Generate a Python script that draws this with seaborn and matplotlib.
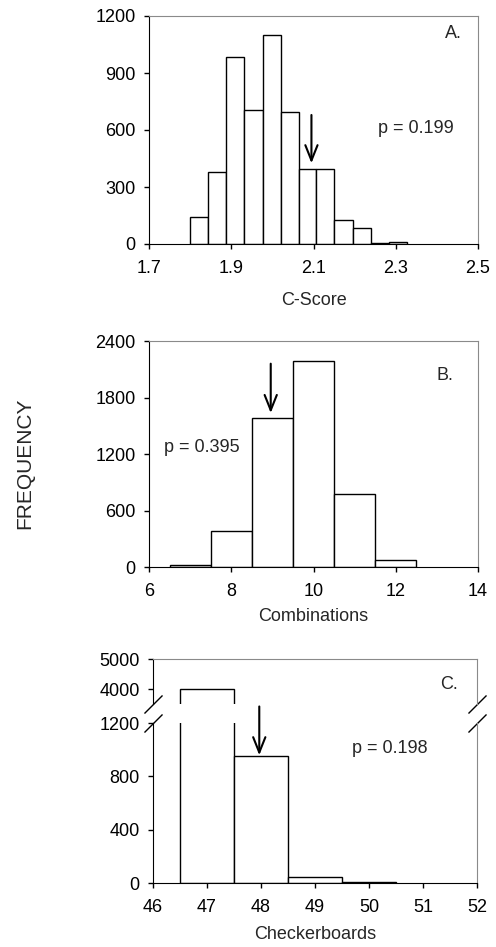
import numpy as np
import pandas as pd
import matplotlib
matplotlib.use("Agg")
import matplotlib.pyplot as plt
import seaborn as sns

# --- data ---
cscore_centers = [1.822, 1.866, 1.910, 1.954, 1.998, 2.042, 2.086, 2.129, 2.173, 2.217, 2.261, 2.305]
cscore_counts = [140, 380, 985, 705, 1100, 695, 395, 395, 125, 82, 7, 12]
cscore_width = 0.0439

combo_centers = [7, 8, 9, 10, 11, 12]
combo_counts = [25, 385, 1580, 2190, 780, 78]

checker_centers = [47, 48, 49, 50]
checker_counts = [4000, 950, 42, 5]

observed = {"A": 2.095, "B": 8.96, "C": 47.97}
pvalues = {"A": "p = 0.199", "B": "p = 0.395", "C": "p = 0.198"}

sns.set_style("ticks")
plt.rcParams["font.family"] = ["Liberation Sans", "DejaVu Sans"]
plt.rcParams["font.size"] = 13

W, H = 496, 947
fig = plt.figure(figsize=(W / 100, H / 100), dpi=100)


def px_axes(left, right, top, bottom):
    # pixel box -> figure fraction
    return fig.add_axes([left / W, 1 - bottom / H, (right - left) / W, (bottom - top) / H])


def edges(centers, width):
    c = np.asarray(centers, dtype=float)
    return list(np.append(c - width / 2, c[-1] + width / 2))


def hist(ax, centers, counts, width):
    df = pd.DataFrame({"x": centers, "n": counts})
    sns.histplot(data=df, x="x", weights="n", bins=edges(centers, width), ax=ax,
                 color="white", edgecolor="black", linewidth=1, alpha=1)


def style(ax, top=True, bottom=True):
    for s in ["left", "bottom"]:
        ax.spines[s].set_color("black")
    for s in ["top", "right"]:
        ax.spines[s].set_color("#8a8a8a")
    ax.spines["top"].set_visible(top)
    ax.spines["bottom"].set_visible(bottom)
    ax.tick_params(axis="both", direction="out", length=3.5, width=1, labelsize=13, colors="black")
    ax.tick_params(axis="x", pad=8)
    ax.tick_params(axis="y", pad=6)
    ax.set_ylabel("")


def arrow(ax, x, y0, y1):
    ax.annotate("", xy=(x, y1), xytext=(x, y0), annotation_clip=False,
                arrowprops=dict(arrowstyle="->,head_length=0.55,head_width=0.22",
                                mutation_scale=20, color="black", lw=1.5,
                                shrinkA=0, shrinkB=0, clip_on=False))


# --- panel A ---
axA = px_axes(149, 478, 16, 244)
hist(axA, cscore_centers, cscore_counts, cscore_width)
axA.set_xlim(1.7, 2.5)
axA.set_ylim(0, 1200)
axA.set_xticks([1.7, 1.9, 2.1, 2.3, 2.5])
axA.set_xticklabels(["1.7", "1.9", "2.1", "2.3", "2.5"])
axA.set_yticks([0, 300, 600, 900, 1200])
style(axA)
axA.set_xlabel("C-Score", fontsize=13, labelpad=11)
axA.text(2.44, 1109, "A.", ha="center", va="center", fontsize=13)
axA.text(2.35, 609, pvalues["A"], ha="center", va="center", fontsize=13)
arrow(axA, observed["A"], 679, 425)

# --- panel B ---
axB = px_axes(149, 478, 341, 567)
hist(axB, combo_centers, combo_counts, 1)
axB.set_xlim(6, 14)
axB.set_ylim(0, 2400)
axB.set_xticks([6, 8, 10, 12, 14])
axB.set_yticks([0, 600, 1200, 1800, 2400])
style(axB)
axB.set_xlabel("Combinations", fontsize=13, labelpad=6)
axB.text(13.19, 2035, "B.", ha="center", va="center", fontsize=13)
axB.text(7.28, 1274, pvalues["B"], ha="center", va="center", fontsize=13)
arrow(axB, observed["B"], 2159, 1635)

# --- panel C (broken y axis) ---
axCt = px_axes(152.7, 477.3, 659, 704)
axCb = px_axes(152.7, 477.3, 723, 883)
for ax in (axCt, axCb):
    hist(ax, checker_centers, checker_counts, 1)
    ax.set_xlim(46, 52)
axCt.set_ylim(3500, 5000)
axCt.set_yticks([4000, 5000])
axCb.set_ylim(0, 1200)
axCb.set_yticks([0, 400, 800, 1200])
axCb.set_xticks([46, 47, 48, 49, 50, 51, 52])
style(axCt, bottom=False)
style(axCb, top=False)
axCt.tick_params(axis="x", bottom=False, labelbottom=False)
axCt.set_xlabel("")
axCb.set_xlabel("Checkerboards", fontsize=13, labelpad=7)

# break marks
mk = dict(marker=[(-1, -1), (1, 1)], markersize=13, linestyle="none",
          color="black", mec="black", mew=1, clip_on=False)
axCt.plot([0, 1], [0, 0], transform=axCt.transAxes, **mk)
axCb.plot([0, 1], [1, 1], transform=axCb.transAxes, **mk)

axCt.text(51.47, 4143, "C.", ha="center", va="center", fontsize=13)
axCb.text(50.39, 1008, pvalues["C"], ha="center", va="center", fontsize=13)
arrow(axCb, observed["C"], 1324, 958)

fig.text(24.5 / W, 1 - 463 / H, "FREQUENCY", rotation=90, ha="center", va="center", fontsize=15)

fig.savefig("out.png", dpi=100)
